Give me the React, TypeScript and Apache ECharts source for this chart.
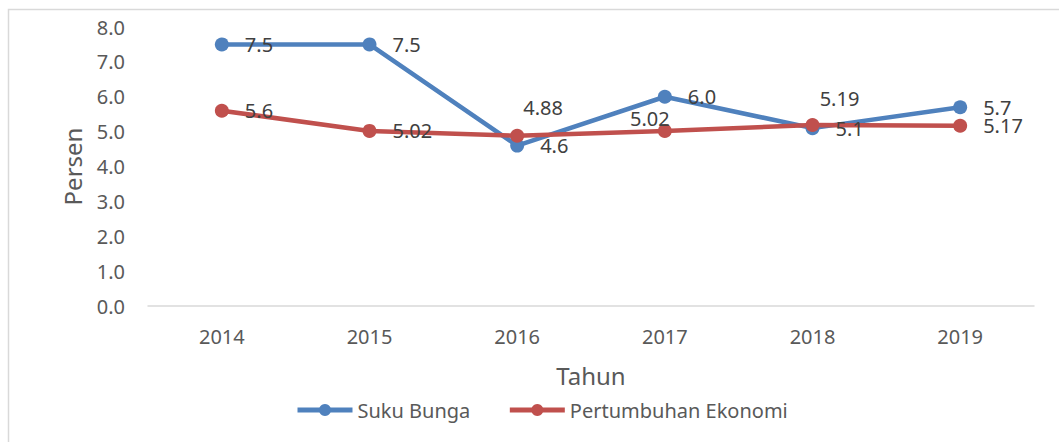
import React, { useEffect, useRef } from "react";
import * as echarts from "echarts";

const years = ["2014", "2015", "2016", "2017", "2018", "2019"];
const sukuBunga = [7.5, 7.5, 4.6, 6.0, 5.1, 5.7];
const pertumbuhan = [5.6, 5.02, 4.88, 5.02, 5.19, 5.17];
const pertumbuhanLabels = ["5.6", "5.02", "4.88", "5.02", "5.19", "5.17"];
const yTicks = [0, 1, 2, 3, 4, 5, 6, 7, 8];

const FONT = "Noto Sans";
const TXT = "#595959";
const BLUE = "#4F81BD";
const RED = "#C0504D";

export default function App() {
  const ref = useRef<HTMLDivElement>(null);
  useEffect(() => {
    if (!ref.current) return;
    const chart = echarts.init(ref.current, undefined, { renderer: "svg" });
    const redOffsets: Record<number, [number, number]> = {
      2: [26, -28],
      3: [-15, -12],
      4: [27, -26],
    };
    chart.setOption({
      animation: false,
      textStyle: { fontFamily: FONT, color: TXT },
      graphic: [
        {
          type: "rect",
          shape: { x: 8.5, y: 9.5, width: 2000, height: 2000 },
          style: { fill: "none", stroke: "#D9D9D9", lineWidth: 1.5 },
          silent: true,
        },
      ],
      grid: { left: 148, right: 25, top: 27, bottom: 136, containLabel: false },
      legend: {
        left: 295,
        top: 400,
        padding: 0,
        itemWidth: 55,
        itemHeight: 15,
        itemGap: 37,
        lineStyle: { width: 5 },
        textStyle: { fontFamily: FONT, fontSize: 20, color: TXT },
        data: ["Suku Bunga", "Pertumbuhan Ekonomi"],
      },
      xAxis: {
        type: "category",
        data: years,
        boundaryGap: true,
        name: "Tahun",
        nameLocation: "middle",
        nameGap: 57,
        nameTextStyle: { fontFamily: FONT, fontSize: 24, color: TXT },
        axisLine: { lineStyle: { color: "#D9D9D9", width: 1.5 } },
        axisTick: { show: false },
        axisLabel: { fontFamily: FONT, fontSize: 20, color: TXT, margin: 20 },
        splitLine: { show: false },
      },
      yAxis: {
        type: "value",
        min: yTicks[0],
        max: yTicks[yTicks.length - 1],
        interval: 1,
        name: "Persen",
        nameLocation: "middle",
        nameGap: 64,
        nameTextStyle: { fontFamily: FONT, fontSize: 24, color: TXT },
        axisLine: { show: false },
        axisTick: { show: false },
        splitLine: { show: false },
        axisLabel: {
          fontFamily: FONT,
          fontSize: 20,
          color: TXT,
          margin: 23,
          formatter: (v: number) => v.toFixed(1),
        },
      },
      series: [
        {
          name: "Suku Bunga",
          type: "line",
          data: sukuBunga,
          symbol: "circle",
          symbolSize: 14,
          itemStyle: { color: BLUE },
          lineStyle: { color: BLUE, width: 4.5 },
          label: {
            show: true,
            position: "right",
            distance: 16,
            fontFamily: FONT,
            fontSize: 20,
            color: "#404040",
            formatter: (p: any) => Number(p.value).toFixed(1),
          },
        },
        {
          name: "Pertumbuhan Ekonomi",
          type: "line",
          data: pertumbuhan.map((v, i) => {
            const off = redOffsets[i];
            if (!off) return { value: v };
            return {
              value: v,
              label: { position: "inside", offset: off },
            };
          }),
          symbol: "circle",
          symbolSize: 14,
          itemStyle: { color: RED },
          lineStyle: { color: RED, width: 4.5 },
          label: {
            show: true,
            position: "right",
            distance: 16,
            fontFamily: FONT,
            fontSize: 20,
            color: "#404040",
            formatter: (p: any) => pertumbuhanLabels[p.dataIndex],
          },
        },
      ],
    });
    return () => chart.dispose();
  }, []);
  return (
    <div
      ref={ref}
      style={{ position: "fixed", left: 0, top: 0, width: 1059, height: 442, background: "#fff" }}
    />
  );
}
